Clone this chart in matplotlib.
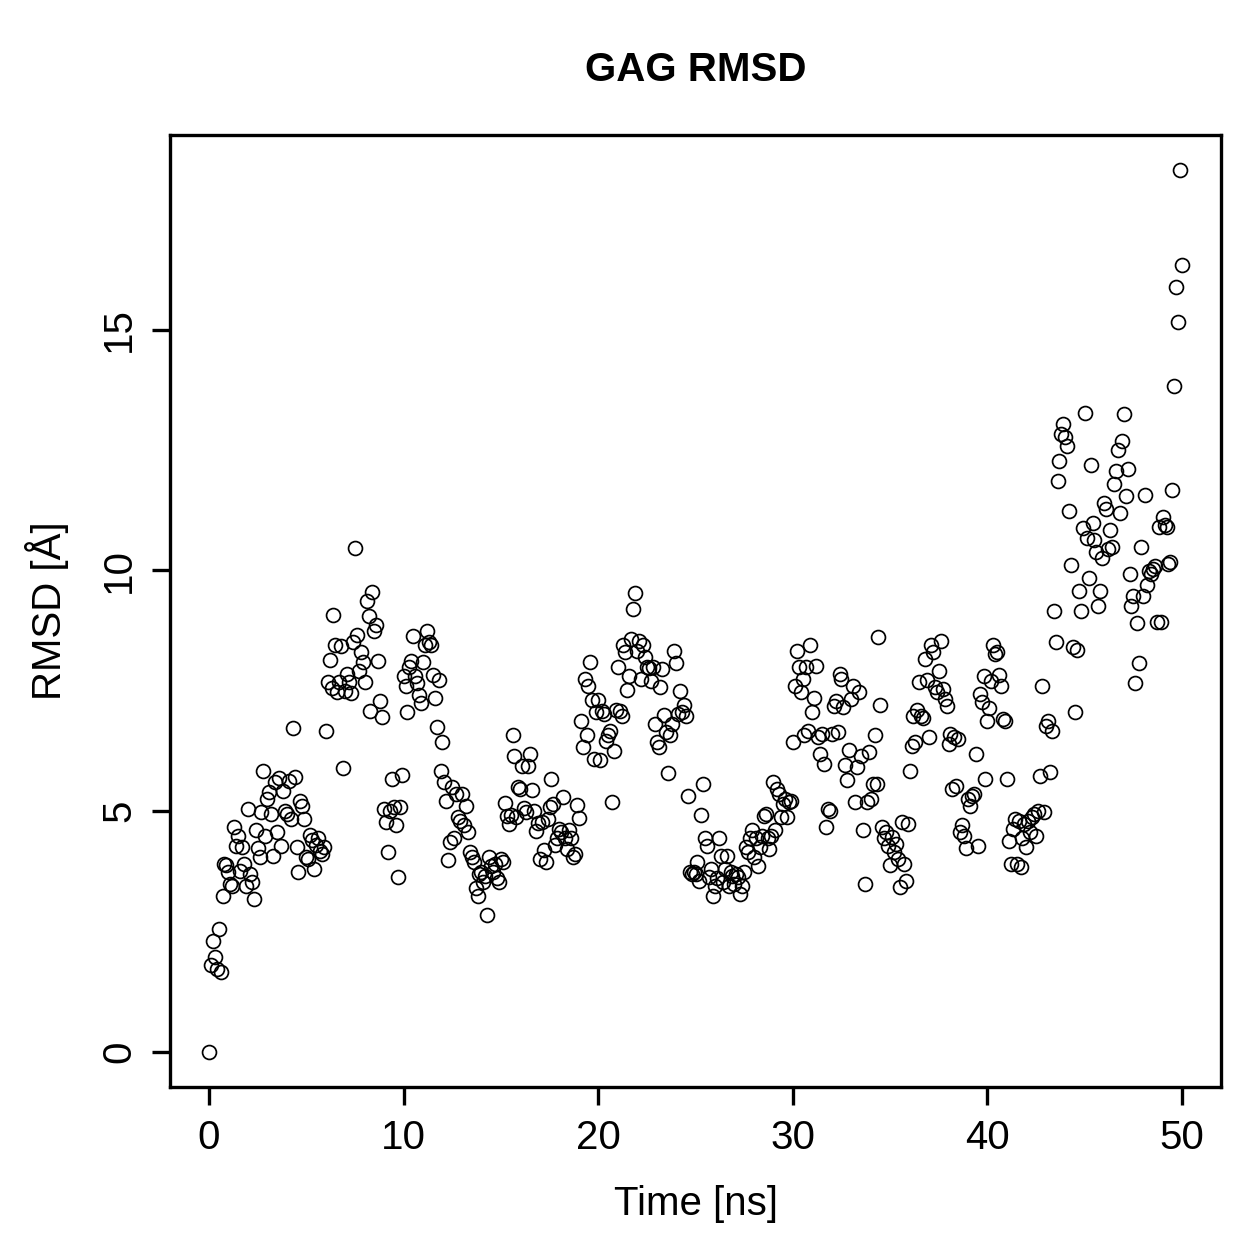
import numpy as np
import matplotlib
matplotlib.use("Agg")
import matplotlib.pyplot as plt

# RMSD values (Angstrom), one every 0.1 ns from 0 to 50 ns, read row by row (one row = 1 ns)
rmsd_rows = [
    [0.0, 1.8, 2.31, 1.97, 1.72, 2.55, 1.66, 3.24, 3.9, 3.88],
    [3.74, 3.49, 3.45, 4.67, 4.28, 4.49, 3.76, 4.26, 3.9, 3.45],
    [5.05, 3.7, 3.53, 3.18, 4.61, 4.24, 4.05, 4.99, 5.84, 4.49],
    [5.26, 5.4, 4.94, 4.07, 5.61, 4.57, 5.69, 4.28, 5.42, 5.0],
    [4.94, 5.63, 4.84, 6.73, 5.71, 4.26, 3.74, 5.2, 5.1, 4.84],
    [4.05, 4.0, 4.5, 4.4, 3.8, 4.3, 4.45, 4.18, 4.1, 4.26],
    [6.67, 7.69, 8.14, 7.56, 9.08, 8.44, 7.48, 7.69, 8.42, 5.9],
    [7.5, 7.85, 7.69, 7.46, 8.52, 10.47, 8.66, 7.9, 8.31, 8.1],
    [7.69, 9.37, 9.06, 7.08, 9.54, 8.73, 8.87, 8.12, 7.29, 6.96],
    [5.05, 4.78, 4.15, 5.0, 5.67, 5.09, 4.72, 3.64, 5.09, 5.75],
    [7.81, 7.6, 7.06, 8.0, 8.12, 8.64, 7.81, 7.65, 7.4, 7.25],
    [8.1, 8.44, 8.73, 8.52, 8.44, 7.83, 7.35, 6.75, 7.73, 5.84],
    [6.44, 5.61, 5.2, 3.99, 4.36, 5.5, 4.43, 5.36, 4.88, 4.8],
    [5.36, 4.7, 5.11, 4.57, 4.15, 4.05, 3.95, 3.4, 3.24, 3.7],
    [3.74, 3.53, 3.66, 2.83, 4.05, 3.86, 3.74, 3.9, 3.6, 3.53],
    [4.0, 3.95, 5.17, 4.9, 4.74, 4.92, 6.57, 6.15, 4.88, 5.5],
    [5.45, 5.94, 5.07, 4.97, 5.94, 6.19, 5.44, 5.0, 4.59, 4.75],
    [4.0, 4.78, 4.2, 3.95, 4.84, 5.09, 5.67, 5.15, 4.3, 4.45],
    [4.63, 4.57, 5.3, 4.45, 4.22, 4.6, 4.43, 4.05, 4.1, 5.13],
    [4.86, 6.88, 6.34, 7.75, 6.57, 7.6, 8.1, 7.3, 6.09, 7.05],
    [7.31, 6.05, 7.08, 7.02, 6.46, 6.57, 6.67, 5.19, 6.25, 7.1],
    [8.0, 7.08, 6.98, 8.44, 8.31, 7.52, 7.81, 8.58, 9.2, 9.52],
    [8.33, 8.54, 7.75, 8.44, 8.2, 8.0, 7.98, 7.71, 8.0, 6.81],
    [6.44, 6.34, 7.58, 7.96, 7.0, 6.65, 5.8, 6.57, 6.81, 8.33],
    [8.08, 7.02, 7.5, 7.06, 7.2, 6.98, 5.32, 3.74, 3.7, 3.74],
    [3.7, 3.95, 3.55, 4.92, 5.57, 4.45, 4.28, 3.64, 3.8, 3.24],
    [3.45, 3.6, 4.45, 4.07, 3.53, 3.8, 4.07, 3.45, 3.74, 3.66],
    [3.49, 3.7, 3.64, 3.28, 3.45, 3.74, 4.26, 4.15, 4.43, 4.6],
    [4.05, 4.43, 3.86, 4.26, 4.49, 4.9, 4.94, 4.43, 4.22, 4.49],
    [5.61, 4.6, 5.46, 5.36, 4.88, 5.15, 5.26, 4.88, 5.19, 5.2],
    [6.44, 7.6, 8.33, 8.0, 7.48, 7.75, 6.57, 8.0, 6.67, 8.44],
    [7.06, 7.35, 8.02, 6.54, 6.19, 6.6, 5.98, 4.67, 5.05, 5.0],
    [6.59, 7.19, 7.29, 6.65, 7.85, 7.75, 7.17, 5.96, 5.65, 6.27],
    [7.33, 7.6, 5.19, 5.92, 7.48, 6.15, 4.6, 3.49, 5.19, 6.23],
    [5.26, 5.57, 6.57, 5.57, 8.62, 7.2, 4.67, 4.43, 4.57, 4.28],
    [3.88, 4.47, 4.15, 4.32, 4.01, 3.43, 4.78, 3.9, 3.55, 4.74],
    [5.84, 6.36, 6.98, 6.44, 7.1, 7.69, 6.98, 6.94, 8.16, 7.73],
    [6.54, 8.44, 8.31, 7.58, 7.48, 7.9, 8.54, 7.54, 7.33, 7.19],
    [6.4, 6.6, 5.46, 6.54, 5.53, 6.5, 4.57, 4.7, 4.49, 4.24],
    [5.26, 5.11, 5.32, 5.36, 6.19, 4.28, 7.44, 7.27, 7.81, 5.67],
    [6.88, 7.13, 7.71, 8.44, 8.27, 8.31, 7.83, 7.6, 6.92, 6.86],
    [5.67, 4.38, 3.9, 4.63, 4.84, 3.9, 4.8, 3.84, 4.43, 4.74],
    [4.26, 4.8, 4.57, 4.88, 4.94, 4.49, 5.0, 5.73, 7.6, 4.97],
    [6.77, 6.88, 5.82, 6.67, 9.16, 8.52, 11.86, 12.28, 12.84, 13.03],
    [12.76, 12.59, 11.24, 10.12, 8.41, 7.06, 8.35, 9.58, 9.16, 10.87],
    [13.26, 10.68, 9.85, 12.18, 10.99, 10.64, 10.39, 9.25, 9.58, 10.25],
    [11.39, 11.28, 10.45, 10.83, 10.49, 11.8, 12.07, 12.49, 11.2, 12.69],
    [13.24, 11.55, 12.11, 9.93, 9.25, 9.47, 7.65, 8.9, 8.08, 10.49],
    [9.47, 11.57, 9.7, 9.99, 9.93, 10.03, 10.08, 8.93, 10.89, 8.93],
    [11.1, 10.95, 10.91, 10.14, 10.18, 11.66, 13.82, 15.89, 15.15, 18.31],
    [16.35],
]
rmsd = np.array([v for row in rmsd_rows for v in row])
time_ns = np.arange(len(rmsd)) * 0.1

x_ticks = [0, 10, 20, 30, 40, 50]
y_ticks = [0, 5, 10, 15]

plt.rcParams['font.family'] = ['Liberation Sans', 'DejaVu Sans']

fig = plt.figure(figsize=(12.59, 12.59), dpi=100)
ax = fig.add_axes([170/1259, 1 - 1087/1259, (1221-170)/1259, (1087-135)/1259])

ax.plot(time_ns, rmsd, linestyle='none', marker='o', markerfacecolor='none',
        markeredgecolor='black', markersize=10, markeredgewidth=1.25)

# R style 4% padding
xr = time_ns.max() - time_ns.min()
yr = rmsd.max() - rmsd.min()
ax.set_xlim(time_ns.min() - 0.04*xr, time_ns.max() + 0.04*xr)
ax.set_ylim(rmsd.min() - 0.04*yr, rmsd.max() + 0.04*yr)

ax.set_xticks(x_ticks)
ax.set_yticks(y_ticks)
ax.tick_params(direction='out', length=13, width=2.4, labelsize=29, pad=10)
for lab in ax.get_yticklabels():
    lab.set_rotation(90)
    lab.set_va('center')
for s in ax.spines.values():
    s.set_linewidth(2.4)

ax.set_title('GAG RMSD', fontsize=29, fontweight='bold', pad=39)
ax.set_xlabel('Time [ns]', fontsize=29, labelpad=20)
ax.set_ylabel('RMSD [Å]', fontsize=29, labelpad=22)

fig.savefig('out.png', dpi=100)
